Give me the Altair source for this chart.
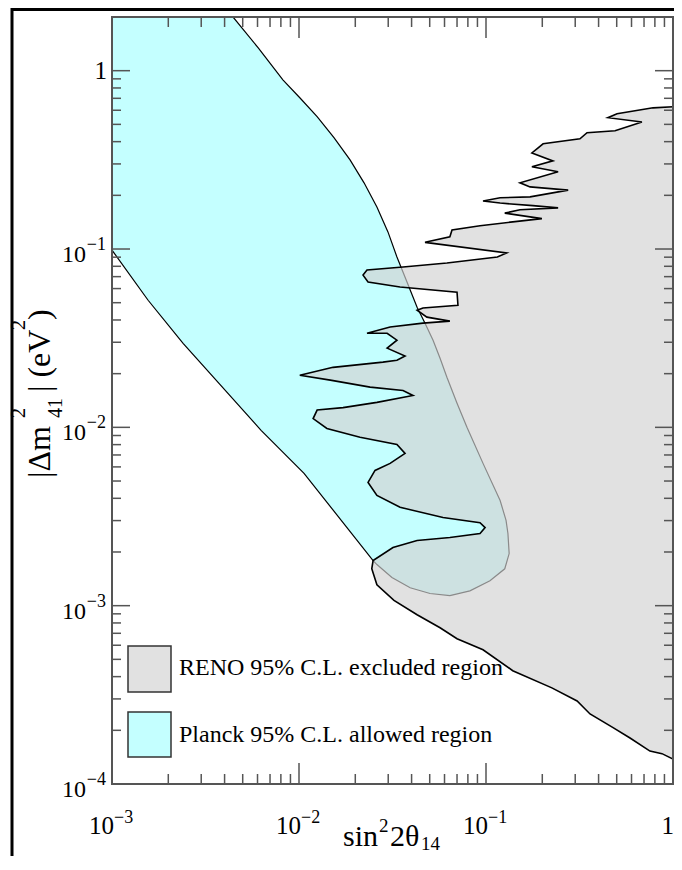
import altair as alt
import pandas as pd

# ---------------- data ----------------
# RENO 95% C.L. excluded region boundary: x = sin^2(2 theta14), y = |dm^2_41| (eV^2)
reno_x = [1.0, 0.782, 0.502, 0.449, 0.682, 0.490, 0.347, 0.318, 0.202, 0.176,
          0.228, 0.176, 0.243, 0.152, 0.172, 0.275, 0.172, 0.119, 0.0964, 0.119,
          0.178, 0.243, 0.152, 0.126, 0.199, 0.139, 0.0929, 0.0658, 0.0641, 0.0472,
          0.129, 0.115, 0.0618, 0.0360, 0.0231, 0.0220, 0.0234, 0.0347, 0.0700, 0.0708,
          0.0460, 0.0428, 0.0483, 0.0641, 0.0460, 0.0307, 0.0231, 0.0296, 0.0334, 0.0296,
          0.0369, 0.0334, 0.0281, 0.0152, 0.0101, 0.0147, 0.0240, 0.0360, 0.0407, 0.0261,
          0.0172, 0.0125, 0.0119, 0.0141, 0.0212, 0.0334, 0.0369, 0.0307, 0.0255, 0.0234,
          0.0261, 0.0347, 0.0589, 0.0929, 0.0989, 0.0929, 0.0641, 0.0428, 0.0318, 0.0249,
          0.0245, 0.0261, 0.0322, 0.0428, 0.0568, 0.0700, 0.0964, 0.139, 0.225, 0.307,
          0.360, 0.478, 0.589, 0.753, 0.873, 1.0]
reno_y = [0.628, 0.619, 0.573, 0.545, 0.516, 0.460, 0.449, 0.415, 0.389, 0.346,
          0.312, 0.289, 0.271, 0.235, 0.223, 0.214, 0.196, 0.194, 0.186, 0.181,
          0.175, 0.170, 0.166, 0.159, 0.148, 0.142, 0.135, 0.128, 0.117, 0.109,
          0.0951, 0.0902, 0.0834, 0.0793, 0.0762, 0.0714, 0.0653, 0.0612, 0.0573, 0.0484,
          0.0467, 0.0454, 0.0415, 0.0394, 0.0384, 0.0365, 0.0337, 0.0337, 0.0308, 0.0278,
          0.0251, 0.0238, 0.0232, 0.0217, 0.0196, 0.0184, 0.0168, 0.0161, 0.0151, 0.0138,
          0.0129, 0.0125, 0.0112, 0.00986, 0.00879, 0.00802, 0.00714, 0.00628, 0.00573, 0.00491,
          0.00415, 0.00356, 0.00312, 0.00292, 0.00274, 0.00254, 0.00241, 0.00232, 0.00212, 0.00179,
          0.00161, 0.00131, 0.00107, 0.000889, 0.000752, 0.000653, 0.000566, 0.000432, 0.000346, 0.000292,
          0.000247, 0.000207, 0.000181, 0.000153, 0.000148, 0.000138]

# Planck 95% C.L. allowed region boundary (right edge, rounded bottom, lower-left edge, corner)
planck_x = [0.00444, 0.00604, 0.00820, 0.0101, 0.0125, 0.01538, 0.01875, 0.02228, 0.0261, 0.0299,
            0.0334, 0.0378, 0.0428, 0.0472, 0.0521, 0.0568, 0.0618, 0.0700, 0.0791, 0.0964,
            0.119, 0.128, 0.131, 0.133, 0.126, 0.105, 0.0820, 0.0641, 0.0502, 0.0393,
            0.0314, 0.0261, 0.0249, 0.01064, 0.00627, 0.00240, 0.00156, 0.001, 0.001]
planck_y = [2.0, 1.346, 0.889, 0.705, 0.552, 0.421, 0.316, 0.235, 0.172, 0.1247,
            0.0902, 0.0653, 0.0472, 0.0384, 0.0308, 0.0244, 0.0191, 0.01365, 0.0100, 0.00628,
            0.00389, 0.00301, 0.00254, 0.00196, 0.00161, 0.00138, 0.00121, 0.00114, 0.00117, 0.00126,
            0.00144, 0.00170, 0.00179, 0.00552, 0.00962, 0.0296, 0.0516, 0.0986, 2.0]

# axis ticks and labels
x_major = [0.01, 0.1]
x_minor = [0.002, 0.003, 0.004, 0.005, 0.006, 0.007, 0.008, 0.009,
           0.02, 0.03, 0.04, 0.05, 0.06, 0.07, 0.08, 0.09,
           0.2, 0.3, 0.4, 0.5, 0.6, 0.7, 0.8, 0.9]
y_major = [0.001, 0.01, 0.1, 1.0]
y_minor = [0.0002, 0.0003, 0.0004, 0.0005, 0.0006, 0.0007, 0.0008, 0.0009,
           0.002, 0.003, 0.004, 0.005, 0.006, 0.007, 0.008, 0.009,
           0.02, 0.03, 0.04, 0.05, 0.06, 0.07, 0.08, 0.09,
           0.2, 0.3, 0.4, 0.5, 0.6, 0.7, 0.8, 0.9]
x_label_vals = [0.001, 0.01, 0.1]
x_label_exps = ["\u22123", "\u22122", "\u22121"]
y_label_vals = [0.0001, 0.001, 0.01, 0.1]
y_label_exps = ["\u22124", "\u22123", "\u22122", "\u22121"]
legend_labels = ["RENO 95% C.L. excluded region", "Planck 95% C.L. allowed region"]

# ---------------- styling ----------------
W, H = 561, 767
SERIF = "Liberation Serif"
CYAN = "#c4ffff"
GREY = "#d1d1d1"
GREY_BOX = "#e1e1e1"
AX = "#555555"

xs = alt.Scale(type="log", domain=[0.001, 1.0], nice=False, zero=False)
ys = alt.Scale(type="log", domain=[0.0001, 2.0], nice=False, zero=False)

one = pd.DataFrame({"k": [0]})


def txt(s, x, y, size, angle=0, align="left"):
    return alt.Chart(one).mark_text(
        text=s, font=SERIF, fontSize=size, align=align, baseline="alphabetic",
        angle=angle, color="black"
    ).encode(x=alt.value(x), y=alt.value(y))


def box(x, x2, y, y2, fill, stroke, sw, fo=1.0):
    return alt.Chart(one).mark_rect(
        fill=fill, fillOpacity=fo, stroke=stroke, strokeWidth=sw
    ).encode(x=alt.value(x), x2=alt.value(x2), y=alt.value(y), y2=alt.value(y2))


planck_df = pd.DataFrame({"x": planck_x, "y": planck_y, "i": list(range(len(planck_x)))})
reno_df = pd.DataFrame({"x": reno_x, "y": reno_y, "i": list(range(len(reno_x)))})

planck = alt.Chart(planck_df).mark_line(
    fill=CYAN, stroke="black", strokeWidth=1.2, clip=True
).encode(
    x=alt.X("x:Q", scale=xs, axis=None),
    y=alt.Y("y:Q", scale=ys, axis=None),
    order=alt.Order("i:Q"),
)

reno = alt.Chart(reno_df).mark_line(
    fill=GREY, fillOpacity=0.66, stroke="black", strokeWidth=1.6, clip=True
).encode(
    x=alt.X("x:Q", scale=xs, axis=None),
    y=alt.Y("y:Q", scale=ys, axis=None),
    order=alt.Order("i:Q"),
)


def xticks(vals, length):
    df = pd.DataFrame({"v": vals})
    base = alt.Chart(df).mark_rule(color=AX, strokeWidth=1.5)
    bottom = base.encode(x=alt.X("v:Q", scale=xs, axis=None), y=alt.value(H), y2=alt.value(H - length))
    top = base.encode(x=alt.X("v:Q", scale=xs, axis=None), y=alt.value(0), y2=alt.value(length))
    return [bottom, top]


def yticks(vals, length):
    df = pd.DataFrame({"v": vals})
    base = alt.Chart(df).mark_rule(color=AX, strokeWidth=1.5)
    left = base.encode(y=alt.Y("v:Q", scale=ys, axis=None), x=alt.value(0), x2=alt.value(length))
    right = base.encode(y=alt.Y("v:Q", scale=ys, axis=None), x=alt.value(W), x2=alt.value(W - length))
    return [left, right]


ticks = xticks(x_major, 21) + xticks(x_minor, 10) + yticks(y_major, 18) + yticks(y_minor, 9)

border = box(0, W, 0, H, "white", AX, 2, fo=0.0)

# x tick labels
xl_df = pd.DataFrame({"v": x_label_vals, "b": ["10"] * 3, "e": x_label_exps})
xl_base = alt.Chart(xl_df).mark_text(font=SERIF, fontSize=25, align="right", baseline="alphabetic", dx=2)\
    .encode(x=alt.X("v:Q", scale=xs, axis=None), y=alt.value(H + 50), text="b:N")
xl_exp = alt.Chart(xl_df).mark_text(font=SERIF, fontSize=18, align="left", baseline="alphabetic", dx=2)\
    .encode(x=alt.X("v:Q", scale=xs, axis=None), y=alt.value(H + 39), text="e:N")
xl_one = alt.Chart(pd.DataFrame({"v": [1.0], "t": ["1"]})).mark_text(
    font=SERIF, fontSize=25, align="right", baseline="alphabetic", dx=1)\
    .encode(x=alt.X("v:Q", scale=xs, axis=None), y=alt.value(H + 50), text="t:N")

# y tick labels
yl_df = pd.DataFrame({"v": y_label_vals, "b": ["10"] * 4, "e": y_label_exps})
yl_base = alt.Chart(yl_df).mark_text(font=SERIF, fontSize=24, align="right", baseline="alphabetic", dy=13)\
    .encode(y=alt.Y("v:Q", scale=ys, axis=None), x=alt.value(-26), text="b:N")
yl_exp = alt.Chart(yl_df).mark_text(font=SERIF, fontSize=18, align="right", baseline="alphabetic", dy=1)\
    .encode(y=alt.Y("v:Q", scale=ys, axis=None), x=alt.value(-6), text="e:N")
yl_one = alt.Chart(pd.DataFrame({"v": [1.0], "t": ["1"]})).mark_text(
    font=SERIF, fontSize=25, align="right", baseline="alphabetic", dy=8)\
    .encode(y=alt.Y("v:Q", scale=ys, axis=None), x=alt.value(-5), text="t:N")

# axis titles
x_title = [
    txt("sin", 231, 829, 30),
    txt("2", 267, 815, 19),
    txt("2\u03b8", 278, 829, 30),
    txt("14", 309, 833, 19),
]
y_title = [
    txt("|\u0394m", -62, 461, 32, angle=270),
    txt("2", -87, 401, 20, angle=270),
    txt("41", -50, 401, 20, angle=270),
    txt("| (eV", -62, 375, 32, angle=270),
    txt("2", -87, 313, 20, angle=270),
    txt(")", -62, 303, 32, angle=270),
]

# legend
legend = [
    box(16, 59, 629, 675, GREY_BOX, "#333333", 1.5),
    box(16, 59, 695, 740, CYAN, "#333333", 1.5),
    txt(legend_labels[0], 67, 658, 24),
    txt(legend_labels[1], 67, 725, 24),
]

frame = box(-100, 700, -7.5, 900, "white", "black", 3, fo=0.0)

chart = alt.layer(
    planck, reno, *ticks, border, xl_base, xl_exp, xl_one, yl_base, yl_exp, yl_one,
    *x_title, *y_title, *legend, frame
).properties(
    width=W, height=H,
    autosize=alt.AutoSizeParams(type="none"),
    padding={"left": 104, "top": 9, "right": 1, "bottom": 72},
).configure_view(stroke="transparent")

chart.save("out.html", embed_options={"renderer": "svg", "actions": False})
